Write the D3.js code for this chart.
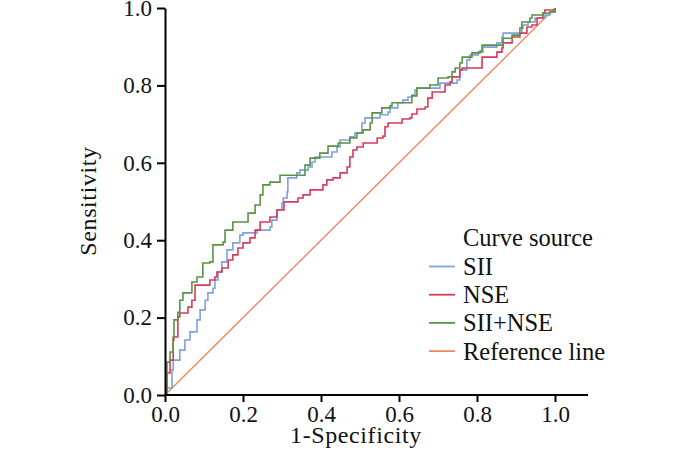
<!DOCTYPE html>
<html>
<head>
<meta charset="utf-8">
<script src="https://cdn.jsdelivr.net/npm/d3@7"></script>
<style>
  body { margin: 0; background: #fff; }
</style>
</head>
<body>
<svg id="chart" width="700" height="454"></svg>
<script>
// ROC points [1-specificity, sensitivity]
var sii = [[0,0],[.005,.018],[.018,.065],[.021,.090],[.038,.116],[.051,.142],[.064,.163],[.082,.194],
  [.090,.220],[.103,.245],[.110,.264],[.123,.276],[.128,.297],[.136,.318],[.146,.344],[.159,.375],
  [.174,.393],[.192,.413],[.200,.419],[.236,.426],[.269,.434],[.274,.452],[.287,.478],[.300,.496],
  [.303,.509],[.313,.525],[.315,.561],[.338,.574],[.346,.581],[.367,.589],[.377,.602],[.385,.615],
  [.428,.628],[.441,.641],[.449,.659],[.474,.667],[.487,.677],[.505,.703],[.513,.716],[.551,.724],
  [.572,.731],[.577,.742],[.597,.755],[.610,.762],[.623,.770],[.633,.775],[.641,.788],[.646,.793],
  [.705,.806],[.749,.814],[.756,.840],[.774,.866],[.782,.879],[.803,.886],[.815,.899],[.851,.910],
  [.864,.925],[.867,.935],[.915,.948],[.918,.956],[.931,.964],[.949,.974],[.974,.982],[.987,.990],[1,1]];

var nse = [[0,0],[.005,.057],[.013,.090],[.021,.150],[.033,.202],[.038,.212],[.059,.227],[.069,.245],
  [.077,.284],[.115,.297],[.128,.305],[.133,.318],[.146,.328],[.162,.349],[.174,.362],[.187,.380],
  [.200,.393],[.218,.406],[.231,.426],[.244,.447],[.269,.460],[.287,.478],[.305,.499],[.341,.509],
  [.354,.517],[.372,.530],[.405,.543],[.415,.556],[.431,.561],[.449,.574],[.467,.589],[.474,.615],
  [.482,.633],[.492,.641],[.508,.651],[.544,.664],[.559,.669],[.564,.693],[.572,.703],[.608,.713],
  [.628,.716],[.633,.726],[.646,.739],[.667,.744],[.674,.767],[.685,.783],[.718,.801],[.731,.809],
  [.736,.822],[.756,.840],[.762,.845],[.813,.873],[.851,.886],[.864,.897],[.867,.910],[.890,.925],
  [.910,.935],[.928,.951],[.941,.956],[.954,.974],[.969,.987],[.974,.995],[1,1]];

var sii_nse = [[0,0],[.005,.085],[.013,.111],[.021,.142],[.023,.194],[.033,.214],[.038,.245],[.046,.264],
  [.069,.292],[.082,.305],[.097,.341],[.115,.344],[.123,.388],[.149,.395],[.154,.426],[.174,.447],
  [.213,.470],[.231,.491],[.244,.517],[.251,.543],[.269,.550],[.295,.568],[.359,.594],[.372,.612],
  [.397,.625],[.418,.643],[.444,.651],[.474,.664],[.492,.677],[.508,.685],[.526,.703],[.531,.729],
  [.556,.742],[.577,.747],[.582,.755],[.633,.773],[.646,.793],[.679,.801],[.700,.819],[.726,.822],
  [.736,.835],[.744,.845],[.756,.858],[.762,.873],[.787,.884],[.808,.889],[.813,.904],[.867,.922],
  [.890,.930],[.910,.948],[.915,.964],[.936,.974],[.941,.982],[.969,.987],[.987,.990],[1,1]];

var ref_line = [[0,0],[1,1]];

var ticks = [0, 0.2, 0.4, 0.6, 0.8, 1.0];
var legend_names = ['SII', 'NSE', 'SII+NSE', 'Reference line'];
var colors = ['#7fa1dc', '#d83b5c', '#5a9344', '#f2865c'];

var font = '"Liberation Serif", "Times New Roman", Times, serif';

var svg = d3.select('#chart');

var x_scale = d3.scaleLinear().domain([0, 1]).range([165, 555]);
var y_scale = d3.scaleLinear().domain([0, 1]).range([395, 8]);

// curves
var step_line = d3.line()
  .x(function(d){ return x_scale(d[0]); })
  .y(function(d){ return y_scale(d[1]); })
  .curve(d3.curveStepAfter);

var straight_line = d3.line()
  .x(function(d){ return x_scale(d[0]); })
  .y(function(d){ return y_scale(d[1]); });

svg.append('path')
  .datum(ref_line)
  .attr('d', straight_line)
  .attr('fill', 'none')
  .attr('stroke', colors[3])
  .attr('stroke-width', 1.4);

[sii, nse, sii_nse].forEach(function(series, i){
  svg.append('path')
    .datum(series)
    .attr('d', step_line)
    .attr('fill', 'none')
    .attr('stroke', colors[i])
    .attr('stroke-width', 1.6);
});

// x axis
var x_axis = svg.append('g')
  .attr('transform', 'translate(0,395)')
  .call(d3.axisBottom(x_scale).tickValues(ticks).tickFormat(d3.format('.1f'))
    .tickSize(7).tickSizeOuter(0).tickPadding(4));
x_axis.select('.domain').attr('d', 'M165,0H588');
x_axis.selectAll('line, .domain').attr('stroke', '#000').attr('stroke-width', 2);
x_axis.selectAll('text')
  .style('font-family', font)
  .style('font-size', '23px')
  .attr('fill', '#111');

// y axis
var y_axis = svg.append('g')
  .attr('transform', 'translate(165,0)')
  .call(d3.axisLeft(y_scale).tickValues(ticks).tickFormat(d3.format('.1f'))
    .tickSize(8).tickSizeOuter(0).tickPadding(5));
y_axis.selectAll('line, .domain').attr('stroke', '#000').attr('stroke-width', 2);
y_axis.selectAll('text')
  .style('font-family', font)
  .style('font-size', '23px')
  .attr('fill', '#111');

// axis titles
svg.append('text')
  .attr('x', 356)
  .attr('y', 443)
  .attr('text-anchor', 'middle')
  .style('font-family', font)
  .style('font-size', '24px')
  .style('letter-spacing', '0.6px')
  .attr('fill', '#111')
  .text('1-Specificity');

svg.append('text')
  .attr('transform', 'translate(96,201) rotate(-90)')
  .attr('text-anchor', 'middle')
  .style('font-family', font)
  .style('font-size', '24px')
  .style('letter-spacing', '0.6px')
  .attr('fill', '#111')
  .text('Sensitivity');

// legend
var legend = svg.append('g').attr('transform', 'translate(463,0)');

legend.append('text')
  .attr('x', 0)
  .attr('y', 246)
  .style('font-family', font)
  .style('font-size', '24.5px')
  .attr('fill', '#111')
  .text('Curve source');

var legend_rows = legend.selectAll('g.row')
  .data(legend_names)
  .enter()
  .append('g')
  .classed('row', true)
  .attr('transform', function(d, i){ return 'translate(0,' + (275 + i * 28.2) + ')'; });

legend_rows.append('line')
  .attr('x1', -34).attr('x2', -8)
  .attr('y1', -8.5).attr('y2', -8.5)
  .attr('stroke', function(d, i){ return colors[i]; })
  .attr('stroke-width', 1.8);

legend_rows.append('text')
  .attr('x', 0)
  .attr('y', 0)
  .style('font-family', font)
  .style('font-size', '24.5px')
  .attr('fill', '#111')
  .text(function(d){ return d; });
</script>
</body>
</html>
